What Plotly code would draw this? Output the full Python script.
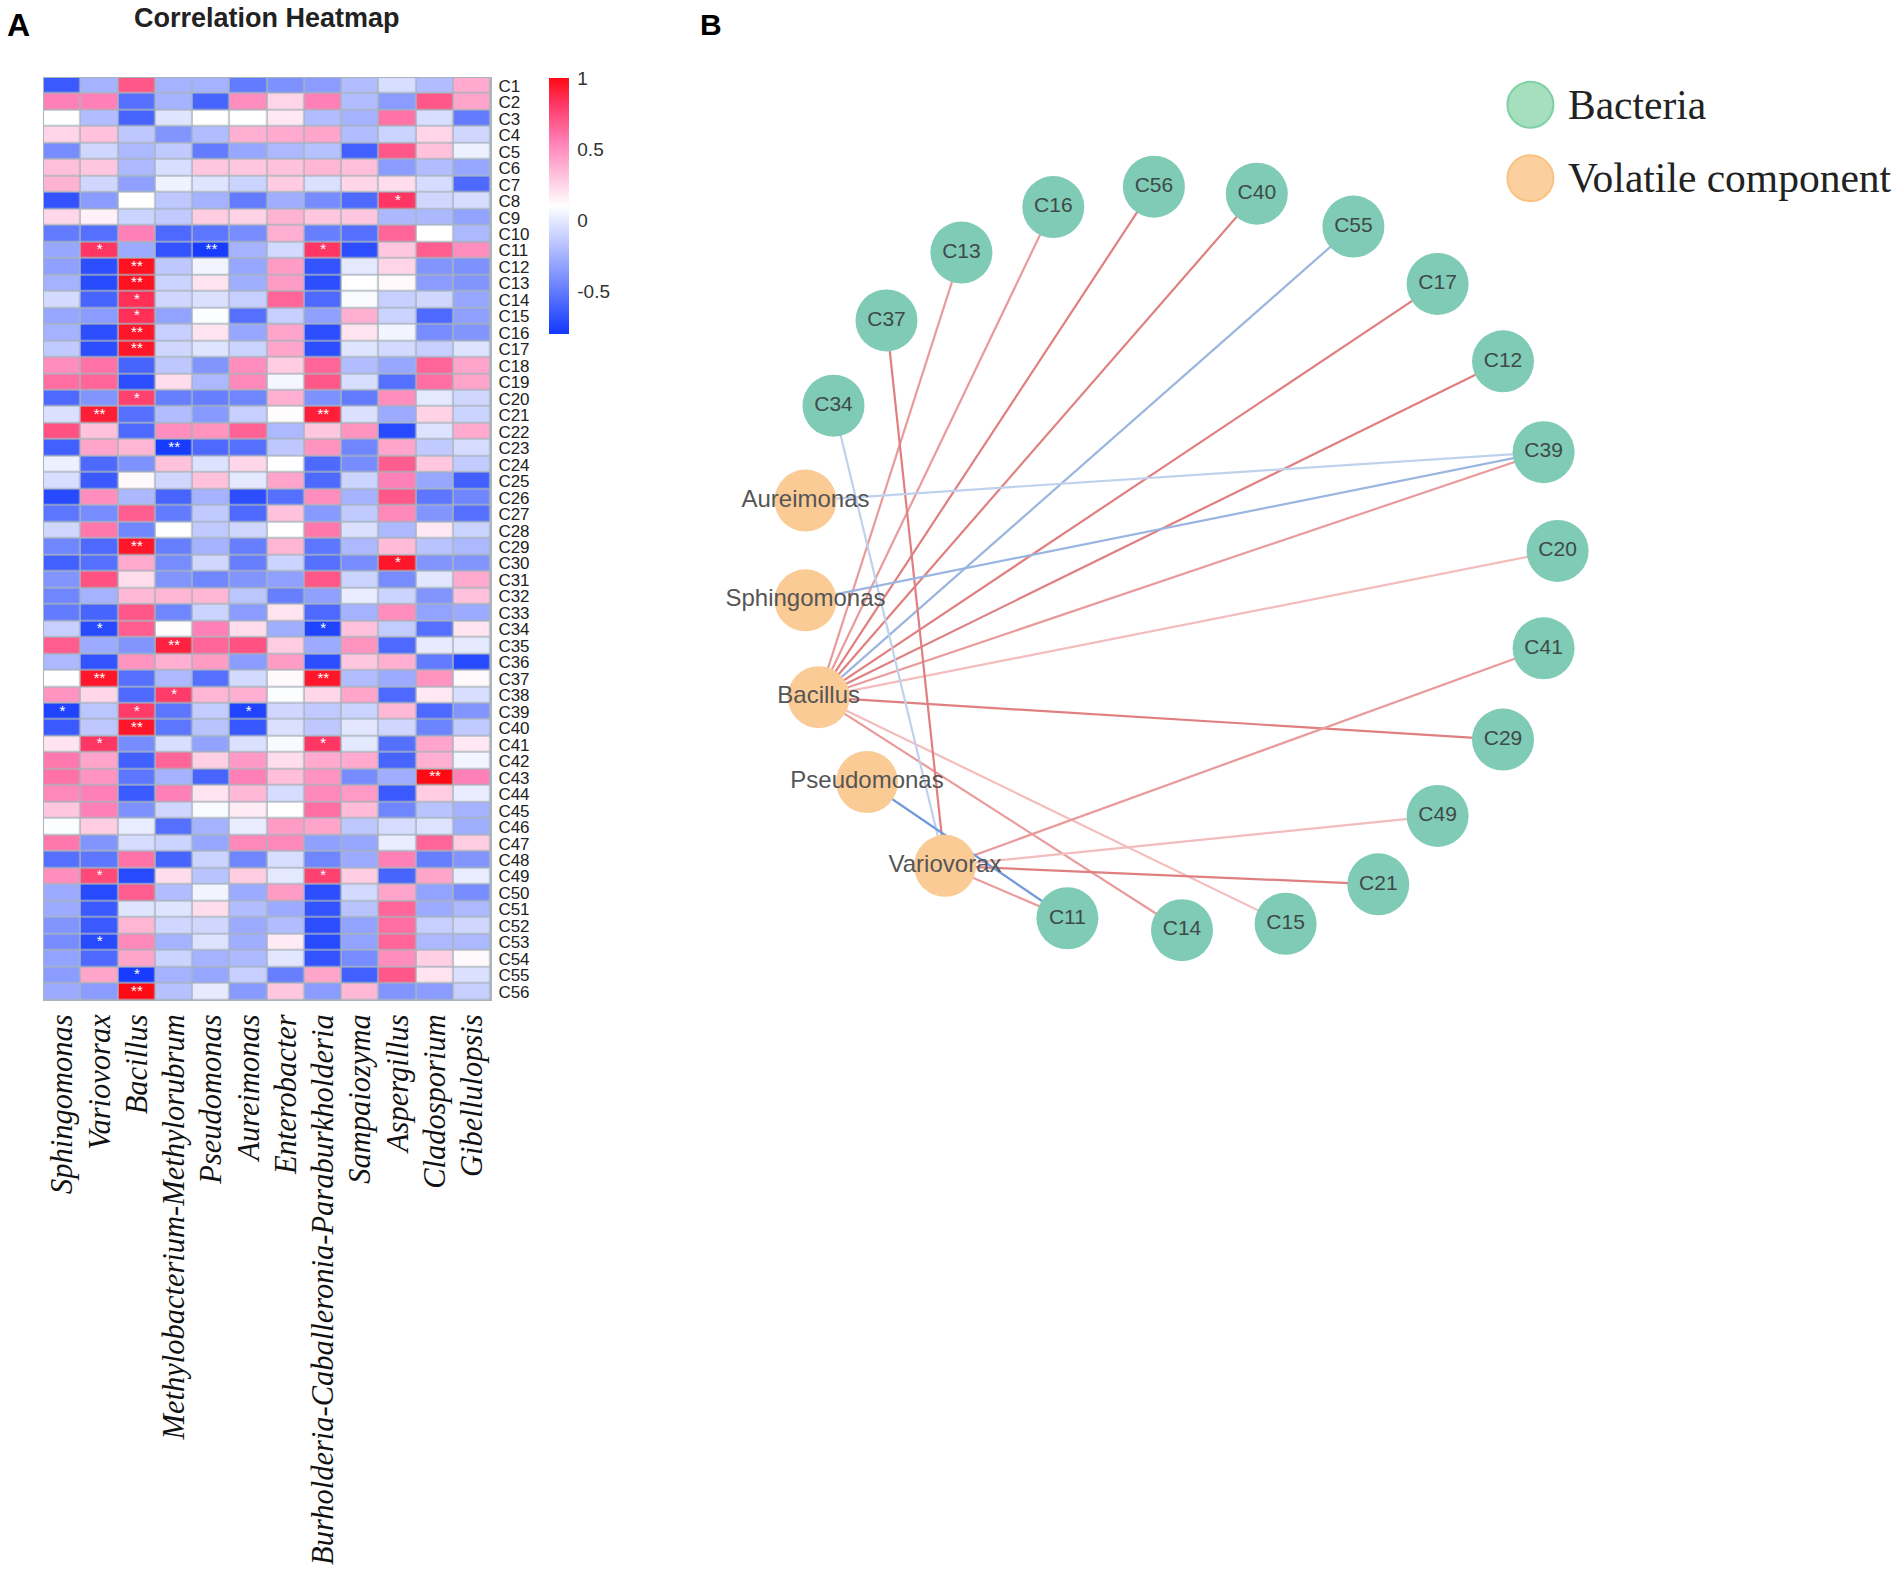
import plotly.graph_objects as go

W, H = 1902, 1579

genera = ["Sphingomonas", "Variovorax", "Bacillus", "Methylobacterium-Methylorubrum", "Pseudomonas",
          "Aureimonas", "Enterobacter", "Burholderia-Caballeronia-Paraburkholderia", "Sampaiozyma",
          "Aspergillus", "Cladosporium", "Gibellulopsis"]
row_names = [f"C{i}" for i in range(1, 57)]

C1 = [-0.65, -0.25, 0.7, -0.25, -0.25, -0.5, -0.4, -0.35, -0.2, -0.05, -0.2, 0.4]
C2 = [0.55, 0.55, -0.55, -0.25, -0.6, 0.5, 0.25, 0.55, -0.2, -0.35, 0.7, 0.42]
C3 = [0.1, -0.2, -0.6, -0.02, 0.1, 0.1, 0.18, -0.2, -0.25, 0.6, -0.05, -0.5]
C4 = [0.25, 0.32, -0.15, -0.38, -0.2, 0.38, 0.4, 0.42, -0.2, -0.1, 0.25, -0.08]
C5 = [-0.42, -0.08, -0.22, -0.14, -0.5, -0.3, -0.22, -0.18, -0.62, 0.7, 0.32, 0.03]
C6 = [0.33, 0.3, -0.22, -0.05, 0.3, 0.3, 0.32, 0.36, 0.33, -0.35, -0.2, -0.3]
C7 = [0.37, -0.08, -0.33, 0.04, -0.02, -0.1, 0.28, -0.04, 0.25, 0.22, -0.06, -0.58]
C8 = [-0.68, -0.35, 0.1, -0.15, -0.25, -0.5, -0.27, -0.42, -0.58, 0.82, -0.08, -0.06]
C9 = [0.24, 0.15, -0.1, -0.14, 0.28, 0.26, 0.37, 0.3, 0.3, -0.22, -0.22, -0.32]
C10 = [-0.5, -0.55, 0.55, -0.58, -0.52, -0.42, 0.38, -0.48, -0.55, 0.65, 0.1, -0.22]
C11 = [-0.3, 0.82, -0.28, -0.68, -0.78, -0.25, -0.07, 0.82, -0.7, 0.3, 0.68, 0.5]
C12 = [-0.33, -0.7, 0.97, -0.15, 0.05, -0.3, 0.45, -0.68, 0.0, 0.25, -0.38, -0.4]
C13 = [-0.25, -0.72, 0.97, -0.1, 0.2, -0.27, 0.45, -0.7, 0.1, 0.12, -0.35, -0.38]
C14 = [-0.07, -0.6, 0.85, -0.08, -0.04, -0.12, 0.65, -0.58, 0.08, -0.12, -0.08, -0.3]
C15 = [-0.3, -0.35, 0.85, -0.32, 0.09, -0.55, -0.12, -0.33, 0.38, -0.1, -0.58, -0.33]
C16 = [-0.25, -0.7, 0.95, -0.12, 0.2, -0.3, 0.42, -0.7, 0.2, 0.05, -0.42, -0.38]
C17 = [-0.14, -0.7, 0.95, -0.08, -0.02, -0.1, 0.42, -0.7, -0.02, -0.07, -0.12, -0.03]
C18 = [0.5, 0.6, -0.6, -0.15, -0.38, 0.5, 0.28, 0.65, -0.2, -0.3, 0.65, 0.42]
C19 = [0.62, 0.65, -0.7, 0.22, -0.22, 0.52, 0.06, 0.7, -0.05, -0.55, 0.62, 0.42]
C20 = [-0.58, -0.38, 0.78, -0.48, -0.48, -0.45, 0.38, -0.4, -0.5, 0.5, 0.0, -0.08]
C21 = [-0.04, 0.92, -0.55, -0.2, -0.36, -0.12, 0.11, 0.92, -0.04, -0.28, 0.26, -0.1]
C22 = [0.72, 0.32, -0.58, 0.5, 0.48, 0.66, -0.22, 0.3, 0.48, -0.72, -0.03, 0.4]
C23 = [-0.62, 0.42, 0.36, -0.78, -0.58, -0.55, -0.15, 0.48, -0.45, 0.42, -0.14, -0.06]
C24 = [0.03, -0.58, -0.4, 0.32, -0.03, 0.24, 0.1, -0.58, -0.42, 0.68, 0.3, -0.13]
C25 = [-0.05, -0.65, 0.12, -0.08, 0.32, 0.0, 0.42, -0.58, -0.1, 0.55, -0.3, -0.62]
C26 = [-0.72, 0.5, -0.22, -0.6, -0.25, -0.7, -0.55, 0.5, -0.25, 0.7, -0.52, -0.45]
C27 = [-0.52, -0.42, 0.68, -0.5, -0.14, -0.58, 0.32, -0.36, -0.14, 0.52, -0.38, -0.55]
C28 = [-0.08, 0.58, -0.45, 0.1, -0.14, -0.08, 0.1, 0.58, -0.04, -0.22, 0.18, -0.1]
C29 = [-0.45, -0.58, 0.95, -0.48, -0.25, -0.48, 0.36, -0.52, -0.22, 0.34, -0.17, -0.22]
C30 = [-0.62, -0.55, 0.4, -0.42, -0.08, -0.48, -0.1, -0.55, -0.42, 0.95, -0.38, -0.38]
C31 = [-0.38, 0.72, 0.22, -0.38, -0.45, -0.38, -0.33, 0.7, -0.1, -0.42, -0.01, 0.4]
C32 = [-0.45, -0.25, 0.35, 0.36, 0.36, -0.16, -0.48, -0.33, 0.02, -0.1, -0.38, 0.32]
C33 = [-0.5, -0.6, 0.7, -0.45, -0.1, -0.35, 0.2, -0.58, -0.25, 0.5, -0.32, -0.28]
C34 = [-0.12, -0.72, 0.68, 0.11, 0.55, 0.22, -0.27, -0.75, 0.32, -0.13, -0.55, 0.2]
C35 = [0.68, -0.28, -0.38, 0.9, 0.65, 0.72, 0.28, -0.28, 0.48, -0.58, 0.01, 0.0]
C36 = [-0.22, -0.68, 0.48, 0.38, 0.45, -0.35, 0.45, -0.7, 0.3, 0.38, -0.5, -0.72]
C37 = [0.1, 0.95, -0.55, -0.22, -0.55, -0.07, 0.12, 0.95, -0.2, -0.28, 0.48, 0.12]
C38 = [0.48, 0.24, -0.58, 0.8, 0.36, 0.38, 0.09, 0.24, 0.42, -0.58, 0.18, -0.05]
C39 = [-0.75, -0.16, 0.8, -0.52, -0.13, -0.75, -0.08, -0.14, -0.1, 0.35, -0.58, -0.38]
C40 = [-0.65, -0.15, 0.95, -0.52, -0.17, -0.66, -0.04, -0.15, -0.01, -0.08, -0.46, -0.14]
C41 = [0.2, 0.82, -0.42, -0.05, -0.32, -0.04, 0.08, 0.82, 0.0, -0.55, 0.42, 0.18]
C42 = [0.58, 0.42, -0.62, 0.65, 0.27, 0.46, 0.22, 0.4, 0.4, -0.6, 0.38, 0.05]
C43 = [0.6, 0.48, -0.52, -0.25, -0.6, 0.55, 0.33, 0.48, -0.42, -0.27, 1.0, 0.55]
C44 = [0.52, 0.55, -0.65, 0.55, 0.2, 0.35, -0.06, 0.52, 0.46, -0.65, 0.28, 0.02]
C45 = [0.3, 0.55, -0.4, -0.08, 0.08, 0.17, 0.1, 0.62, 0.34, -0.45, -0.17, -0.25]
C46 = [0.09, 0.28, 0.02, -0.55, -0.25, 0.02, 0.45, 0.42, -0.15, -0.06, -0.03, -0.27]
C47 = [0.58, -0.38, -0.06, -0.1, -0.3, 0.52, 0.52, -0.33, -0.3, 0.02, 0.65, 0.28]
C48 = [-0.55, -0.52, 0.6, -0.6, -0.1, -0.45, -0.05, -0.45, -0.28, 0.55, -0.48, -0.38]
C49 = [0.5, 0.75, -0.72, 0.22, -0.17, 0.28, 0.0, 0.78, 0.28, -0.6, 0.42, 0.02]
C50 = [-0.28, -0.72, 0.68, -0.2, 0.05, -0.28, 0.45, -0.7, -0.07, 0.42, -0.32, -0.42]
C51 = [-0.28, -0.65, -0.02, -0.02, 0.22, -0.2, -0.28, -0.68, -0.17, 0.65, -0.28, -0.22]
C52 = [-0.38, -0.65, 0.36, -0.08, -0.08, -0.28, -0.2, -0.7, -0.32, 0.62, -0.12, -0.08]
C53 = [-0.42, -0.72, 0.52, -0.25, -0.03, -0.27, 0.17, -0.72, -0.32, 0.65, -0.22, -0.22]
C54 = [-0.32, -0.58, 0.42, -0.1, -0.25, -0.22, -0.01, -0.68, -0.42, 0.5, 0.27, 0.12]
C55 = [-0.35, 0.42, -0.78, -0.25, -0.3, -0.12, -0.48, 0.42, -0.62, 0.7, 0.2, -0.04]
C56 = [-0.28, -0.35, 1.0, -0.18, 0.01, -0.36, 0.3, -0.35, 0.35, -0.38, -0.35, -0.12]
heat_rows = [C1, C2, C3, C4, C5, C6, C7, C8, C9, C10, C11, C12, C13, C14, C15, C16, C17, C18, C19, C20,
             C21, C22, C23, C24, C25, C26, C27, C28, C29, C30, C31, C32, C33, C34, C35, C36, C37, C38, C39,
             C40, C41, C42, C43, C44, C45, C46, C47, C48, C49, C50, C51, C52, C53, C54, C55, C56]

# significance marks: (row, genus index, mark)
sig_rows = ["C8", "C11", "C11", "C11", "C12", "C13", "C14", "C15", "C16", "C17", "C20", "C21", "C21", "C23",
            "C29", "C30", "C34", "C34", "C35", "C37", "C37", "C38", "C39", "C39", "C39", "C40", "C41", "C41",
            "C43", "C49", "C49", "C53", "C55", "C56"]
sig_cols = [9, 1, 4, 7, 2, 2, 2, 2, 2, 2, 2, 1, 7, 3,
            2, 9, 1, 7, 3, 1, 7, 3, 0, 2, 5, 2, 1, 7,
            10, 1, 7, 1, 2, 2]
sig_marks = ["*", "*", "**", "*", "**", "**", "*", "*", "**", "**", "*", "**", "**", "**",
             "**", "*", "*", "*", "**", "**", "**", "*", "*", "*", "*", "**", "*", "*",
             "**", "*", "*", "*", "*", "**"]

# network
bacteria = ["C34", "C37", "C13", "C16", "C56", "C40", "C55", "C17", "C12", "C39", "C20", "C41", "C29", "C49",
            "C21", "C15", "C14", "C11"]
bacteria_x = [833.5, 886.5, 961.4, 1053.3, 1153.9, 1256.8, 1353.4, 1437.6, 1503, 1543.6, 1557.6, 1543.6, 1503,
              1437.6, 1378.3, 1285.6, 1182, 1067.4]
bacteria_y = [405.5, 320, 252, 206.5, 186, 193, 226, 283.5, 361, 452, 551, 648.5, 740, 816.5, 885,
              924.5, 931, 919]
volatiles = ["Aureimonas", "Sphingomonas", "Bacillus", "Pseudomonas", "Variovorax"]
volatiles_x = [805.5, 805.5, 818.7, 867, 945]
volatiles_y = [500.5, 600.5, 697.5, 782.5, 866.5]

edge_from = ["Bacillus"] * 12 + ["Variovorax"] * 6 + ["Pseudomonas", "Aureimonas", "Sphingomonas"]
edge_to = ["C13", "C16", "C56", "C40", "C55", "C17", "C12", "C39", "C20", "C29", "C14", "C15",
           "C37", "C41", "C49", "C21", "C11", "C34",
           "C11", "C39", "C39"]
edge_tier = ["r2", "r2", "r1", "r1", "b1", "r1", "r1", "r2", "r3", "r1", "r2", "r3",
             "r1", "r2", "r3", "r1", "r2", "b3",
             "b0", "b3", "b1"]

legend_labels = ["Bacteria", "Volatile component"]
legend_y = [104, 177.5]
legend_x = [1530.4, 1530.4]

tier_color = {"r1": "#E07F80", "r2": "#E99A9A", "r3": "#F3BDBD",
              "b0": "#739AD8", "b1": "#99B5E0", "b3": "#BFD1EC"}

fig = go.Figure()

colorscale = [[0, "#1238FF"], [0.25, "#8A9CFF"], [0.5, "#FFFFFF"], [0.75, "#FF80B6"], [0.9, "#FF3664"],
              [1, "#FF0A14"]]
fig.add_trace(go.Heatmap(
    z=heat_rows, x=genera, y=row_names, zmin=-0.8, zmax=1, colorscale=colorscale, xgap=1.5, ygap=1.5,
    hoverongaps=False,
    colorbar=dict(x=549 / W, xanchor="left", y=1 - 77 / H, yanchor="top", thicknessmode="pixels", thickness=20,
                  lenmode="pixels", len=256, xpad=0, ypad=0, outlinewidth=0, ticks="outside", ticklen=5,
                  tickcolor="rgba(0,0,0,0)",
                  tickvals=[-0.5, 0, 0.5, 1], ticktext=["-0.5", "0", "0.5", "1"], ticklabelposition="outside",
                  tickfont=dict(family="Liberation Sans", size=19, color="#333333")),
))
fig.add_trace(go.Scatter(
    x=[genera[c] for c in sig_cols], y=sig_rows, text=sig_marks, mode="text", textposition="middle center",
    textfont=dict(family="Liberation Sans", size=15, color="white"), hoverinfo="skip", showlegend=False,
))

lookup = dict(zip(bacteria + volatiles,
                  zip(bacteria_x + volatiles_x, bacteria_y + volatiles_y)))
for a, b, t in zip(edge_from, edge_to, edge_tier):
    fig.add_trace(go.Scatter(
        x=[lookup[a][0], lookup[b][0]], y=[lookup[a][1], lookup[b][1]], mode="lines", xaxis="x2", yaxis="y2",
        line=dict(color=tier_color[t], width=2.2), hoverinfo="skip", showlegend=False,
    ))

fig.add_trace(go.Scatter(
    x=bacteria_x, y=bacteria_y, text=bacteria, mode="markers+text", xaxis="x2", yaxis="y2",
    textposition="middle center", marker=dict(size=62, color="#7FCBB5", line=dict(width=0)),
    textfont=dict(family="Liberation Sans", size=21, color="#3F4A48"), showlegend=False,
))
fig.add_trace(go.Scatter(
    x=volatiles_x, y=volatiles_y, text=volatiles, mode="markers+text", xaxis="x2", yaxis="y2",
    textposition="middle center", marker=dict(size=62, color="#FBCB96", line=dict(width=0)),
    textfont=dict(family="Liberation Sans", size=24, color="#555555"), showlegend=False,
))
fig.add_trace(go.Scatter(
    x=legend_x[:1], y=legend_y[:1], mode="markers", xaxis="x2", yaxis="y2", showlegend=False,
    marker=dict(size=46, color="#A6DFBE", line=dict(width=2, color="#7FD0A6")),
))
fig.add_trace(go.Scatter(
    x=legend_x[1:], y=legend_y[1:], mode="markers", xaxis="x2", yaxis="y2", showlegend=False,
    marker=dict(size=46, color="#FCCF9E", line=dict(width=2, color="#F8C27F")),
))

annotations = [
    dict(text="<b>A</b>", x=18 / W, y=1 - 24 / H, font=dict(family="Liberation Sans", size=32, color="black")),
    dict(text="<b>B</b>", x=711 / W, y=1 - 24 / H, font=dict(family="Liberation Sans", size=30, color="black")),
    dict(text="<b>Correlation Heatmap</b>", x=267 / W, y=1 - 17 / H,
         font=dict(family="Liberation Sans", size=27, color="#222222")),
]
for lab, ly in zip(legend_labels, legend_y):
    annotations.append(dict(text=lab, x=1566 / W, y=1 - ly / H, xanchor="left",
                            font=dict(family="Liberation Serif", size=41.5, color="#222222")))
for a in annotations:
    a.update(xref="paper", yref="paper", showarrow=False)
    a.setdefault("xanchor", "center")
    a.setdefault("yanchor", "middle")

fig.update_layout(
    width=W, height=H, margin=dict(l=0, r=0, t=0, b=0), paper_bgcolor="white", plot_bgcolor="rgba(0,0,0,0)",
    showlegend=False, annotations=annotations,
    xaxis=dict(domain=[43.7 / W, 491 / W], anchor="y", type="category", side="bottom", tickangle=-90, ticks="",
               range=[-0.5, 11.5], showgrid=False, zeroline=False, ticklabelstandoff=1, showline=True,
               linecolor="#A9B4BC", linewidth=1, mirror=True,
               tickfont=dict(family="Liberation Serif", size=30.5, color="#111111", style="italic")),
    yaxis=dict(domain=[1 - 1001 / H, 1 - 76.7 / H], anchor="x", type="category", side="right", range=[55.5, -0.5],
               ticks="", showgrid=False, zeroline=False, showline=True, linecolor="#A9B4BC", linewidth=1, mirror=True,
               tickfont=dict(family="Liberation Sans", size=17, color="#222222"), dtick=1, ticklabelstandoff=3),
    xaxis2=dict(domain=[0, 1], range=[0, W], anchor="y2", visible=False, fixedrange=True),
    yaxis2=dict(domain=[0, 1], range=[H, 0], anchor="x2", visible=False, fixedrange=True),
    shapes=[dict(type="rect", xref="x domain", yref="y domain", x0=0, x1=1, y0=0, y1=1, layer="below",
                 fillcolor="#A9B4BC", line=dict(width=0))],
)

fig.write_html("out.html", config={"displayModeBar": False},
               post_script="document.body.style.margin='0';document.documentElement.style.overflow='hidden';")
